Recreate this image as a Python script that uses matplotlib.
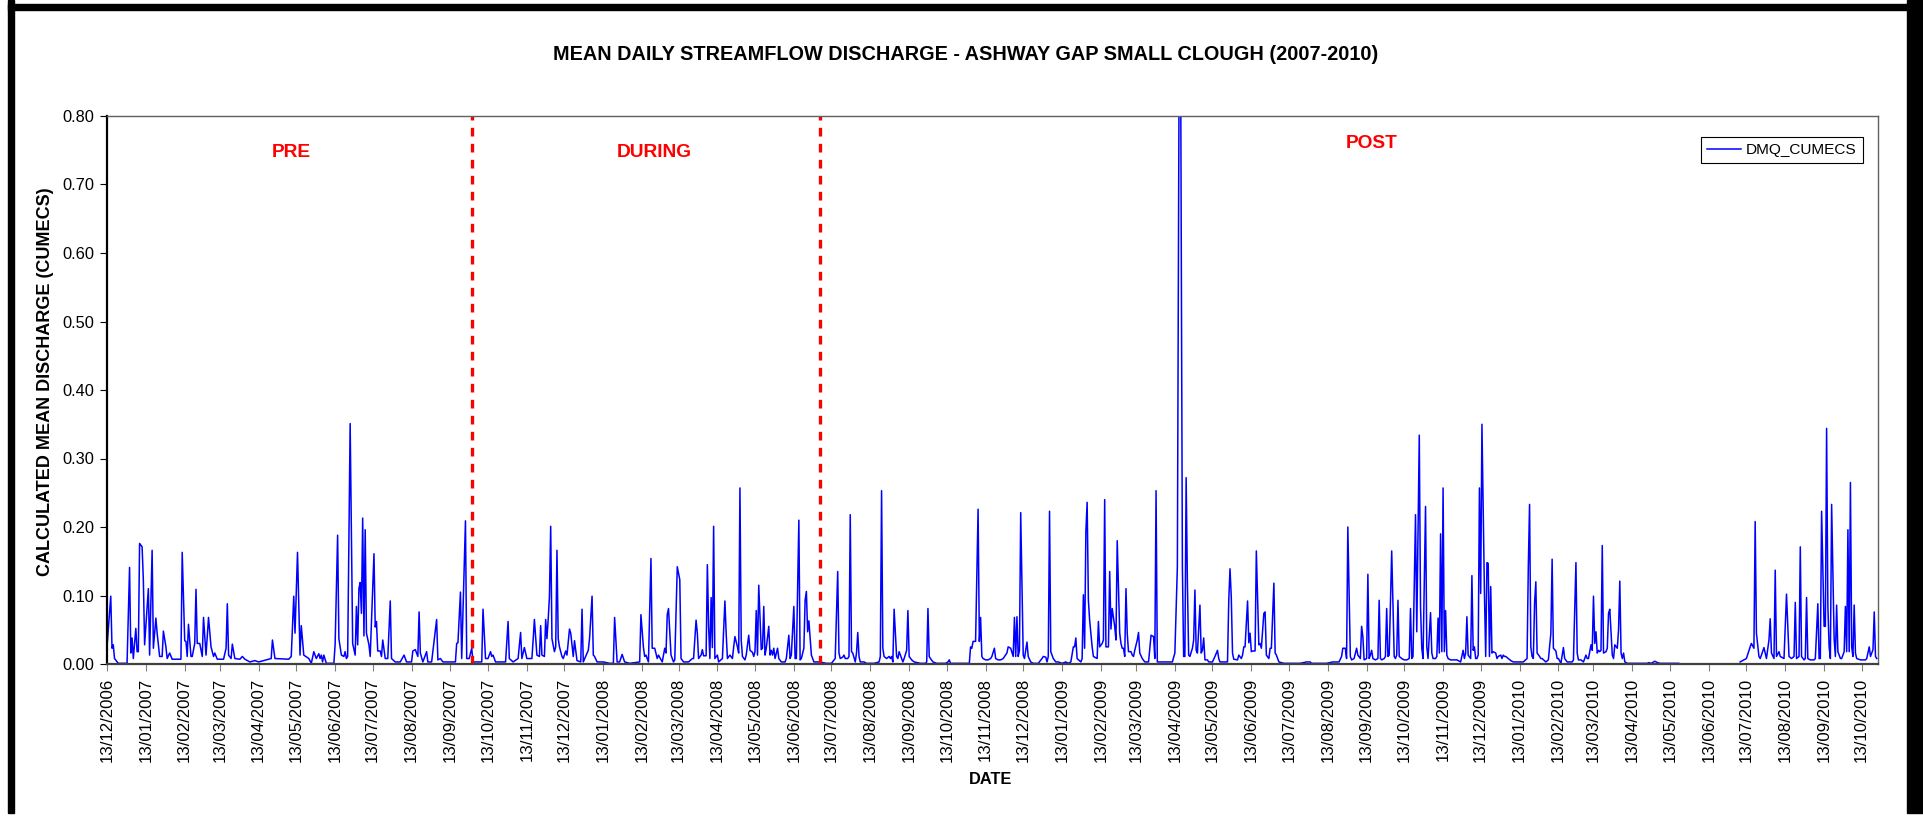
import numpy as np
import pandas as pd
import matplotlib
matplotlib.use('Agg')
import matplotlib.pyplot as plt
import matplotlib.dates as mdates
from matplotlib.patches import Rectangle

plt.rcParams['font.family'] = ['Liberation Sans', 'DejaVu Sans']

# daily flow, as days after 13/12/2006
start = '2006-12-13'
end_day = 1413
phase_breaks = [291, 569]
phase_names = ['PRE', 'DURING', 'POST']
phase_label_day = [147, 437, 1009]
phase_label_y = [0.747, 0.747, 0.760]

day = [
    0, 3, 4, 5, 6, 9, 16, 18, 19, 20, 21, 23, 24, 25, 26, 28, 29, 30, 33, 34,
    36, 37, 39, 40, 42, 44, 45, 47, 48, 50, 52, 59, 60, 62, 63, 64, 65, 67, 68, 70,
    71, 72, 74, 76, 77, 79, 81, 83, 85, 86, 88, 93, 95, 96, 97, 99, 100, 102, 106, 108,
    110, 114, 118, 121, 127, 131, 132, 134, 145, 147, 149, 150, 152, 154, 155, 157, 161, 163, 165, 167,
    169, 170, 171, 172, 173, 175, 181, 182, 184, 185, 187, 189, 190, 191, 192, 194, 196, 198, 199, 200,
    201, 202, 203, 204, 205, 206, 207, 209, 210, 213, 214, 215, 216, 218, 219, 220, 222, 224, 226, 227,
    230, 234, 237, 239, 243, 244, 246, 248, 249,
    250, 252, 255, 256, 259, 263, 264, 266, 268, 278, 279, 280, 282, 283, 286, 287, 289, 291, 292, 299,
    300, 302, 304, 306, 307, 308, 310, 318, 320, 321, 324, 328, 330, 331, 333, 335, 339, 340, 341, 343,
    345, 346, 347, 349, 350, 351, 352, 353, 354, 355, 357, 358, 359, 360, 361, 363, 364, 366, 367, 369,
    370, 372, 373, 375, 378, 379, 380, 384, 385, 387, 388, 389, 391, 396, 401, 404, 405, 407, 409, 411,
    413, 417, 425, 426, 428, 429, 430, 432, 434, 435, 437, 439, 440, 443, 445, 446, 447, 448, 450, 452,
    453, 455, 457, 458, 460, 464, 467, 468, 470, 471, 472, 474, 475, 476, 478, 479, 480, 481, 482, 483,
    484, 485, 487, 488,
    491, 493, 494, 495, 497, 499, 500, 501, 503, 504, 505, 506, 507, 509, 510, 512, 513, 515, 516, 517,
    518, 519, 520, 522, 523, 524, 525, 526, 528, 529, 530, 531, 532, 533, 535, 536, 538, 541, 542, 544,
    545, 546, 548, 549, 550, 552, 553, 554, 556, 557, 558, 559, 560, 562, 564, 568, 574, 578, 581, 583,
    584, 585, 587, 588, 589, 591, 592, 593, 594, 595, 597, 598, 599, 600, 601, 604, 606, 612, 616, 617,
    618, 619, 620, 622, 624, 625, 626, 627, 628, 630, 631, 632, 633, 635, 636, 638, 639, 640, 642, 644,
    649, 653, 654, 655, 656, 657, 659, 662, 669, 671, 672, 673, 676, 688, 689, 690, 691, 693, 695, 696,
    697, 698, 699, 701, 703, 705, 706, 708, 709, 711, 713, 715, 718, 719, 721, 723, 724, 725, 726, 727,
    728, 729, 731, 732, 733, 734, 735, 737, 739, 743, 746, 747, 749, 750, 751, 752, 753, 755, 757, 759,
    762, 765, 767, 769, 771, 772, 773, 774, 777, 778, 779, 780, 781, 782, 783, 784, 786, 787, 790, 791,
    792, 794, 795, 796, 797, 798, 799, 800, 801, 802, 804, 805, 806, 808, 809, 810, 811, 812, 813, 814,
    815, 817, 818, 819, 820, 822, 823, 824, 826, 828, 831, 833, 835, 836, 837, 838, 840, 846, 850, 852,
    854, 856, 858, 859, 860, 861, 862, 863, 864, 866, 867, 868, 869, 870, 872, 873, 874, 875, 876, 878,
    879, 882, 884, 886, 887, 888, 891, 894, 895, 896, 897, 898, 899, 902, 903, 905, 906, 907, 908, 910,
    911, 912, 913, 914, 915, 916, 917, 919, 920, 921, 923, 924, 925, 927, 928, 929, 931, 932, 933, 934,
    935, 939, 944, 952, 957, 960, 961, 968,
    973, 978, 983, 985, 986, 988, 989, 990, 992, 993, 995, 997, 998, 1000, 1001, 1002, 1003, 1005, 1006, 1007,
    1008, 1009, 1010, 1012, 1014, 1015, 1016, 1017, 1019, 1020, 1021, 1022, 1023, 1025, 1027, 1028, 1029, 1030, 1031, 1033,
    1035, 1037, 1039, 1040, 1041, 1042, 1044, 1045, 1047, 1048, 1049, 1050, 1052, 1053, 1054, 1056, 1057, 1058, 1060, 1061,
    1062, 1063, 1064, 1065, 1066, 1067, 1068, 1069, 1070, 1072, 1075, 1077, 1080, 1082, 1083, 1084, 1085, 1086, 1088, 1089,
    1090, 1091, 1092, 1093, 1094, 1095, 1096, 1097, 1099, 1100, 1101, 1102, 1103, 1104, 1105, 1106, 1108, 1109, 1110, 1112,
    1113, 1114, 1115, 1116, 1118, 1120, 1122, 1125, 1130, 1133, 1134, 1135, 1136, 1137, 1138, 1139, 1140, 1141, 1143, 1144,
    1145, 1148, 1150, 1152, 1153, 1154, 1156, 1157, 1158, 1160, 1161, 1162, 1163, 1165, 1169, 1170, 1172, 1173, 1174, 1176,
    1178, 1180, 1181, 1182, 1184, 1185, 1186, 1187, 1188, 1189, 1190, 1191, 1192, 1193, 1194, 1196, 1197, 1198, 1199, 1201,
    1202, 1203, 1205, 1206, 1207, 1208, 1209, 1210, 1211, 1213, 1218, 1229, 1230, 1232, 1235, 1237, 1239, 1254, 1280,
    1303, 1306, 1308, 1311, 1312, 1314, 1315, 1316, 1318, 1319, 1320, 1322, 1323, 1324, 1326, 1327, 1328, 1330, 1331, 1332,
    1334, 1335, 1338, 1340, 1342, 1344, 1346, 1347, 1348, 1350, 1351, 1352, 1354, 1355, 1356, 1357, 1359, 1362, 1363, 1365,
    1366, 1367, 1368, 1370, 1371, 1372, 1373, 1374, 1375, 1376, 1378, 1379, 1380, 1381, 1383, 1384, 1386, 1387, 1388, 1389,
    1390, 1391, 1392, 1393, 1394, 1395, 1396, 1399, 1403, 1404, 1406, 1407, 1409, 1410, 1411, 1412,
]

dmq = [
    0.025, 0.099, 0.023, 0.028, 0.008, 0.001, 0.001, 0.141, 0.016, 0.038, 0.008, 0.052, 0.018, 0.018, 0.176, 0.171, 0.123, 0.028, 0.110, 0.013,
    0.166, 0.023, 0.067, 0.045, 0.011, 0.011, 0.048, 0.025, 0.008, 0.016, 0.007, 0.007, 0.163, 0.034, 0.033, 0.011, 0.058, 0.011, 0.011, 0.030,
    0.109, 0.030, 0.030, 0.011, 0.068, 0.013, 0.068, 0.025, 0.011, 0.016, 0.007, 0.007, 0.023, 0.088, 0.013, 0.008, 0.029, 0.008, 0.007, 0.011,
    0.007, 0.003, 0.005, 0.003, 0.006, 0.008, 0.035, 0.008, 0.007, 0.011, 0.099, 0.045, 0.163, 0.013, 0.056, 0.013, 0.008, 0.001, 0.018, 0.008,
    0.015, 0.008, 0.013, 0.003, 0.013, 0.001, 0.001, 0.028, 0.188, 0.037, 0.013, 0.011, 0.018, 0.008, 0.011, 0.351, 0.030, 0.013, 0.084, 0.028,
    0.110, 0.119, 0.074, 0.213, 0.041, 0.196, 0.045, 0.028, 0.011, 0.161, 0.054, 0.062, 0.019, 0.019, 0.011, 0.035, 0.008, 0.008, 0.092, 0.008,
    0.003, 0.003, 0.013, 0.003, 0.003, 0.019, 0.021, 0.011, 0.076,
    0.016, 0.003, 0.018, 0.003, 0.003, 0.065, 0.006, 0.008, 0.003, 0.003, 0.030, 0.031, 0.105, 0.008, 0.209, 0.008, 0.008, 0.023, 0.003, 0.003,
    0.080, 0.008, 0.008, 0.018, 0.011, 0.013, 0.003, 0.003, 0.062, 0.008, 0.003, 0.008, 0.046, 0.008, 0.024, 0.008, 0.008, 0.035, 0.065, 0.013,
    0.011, 0.056, 0.013, 0.011, 0.065, 0.037, 0.065, 0.098, 0.201, 0.037, 0.018, 0.025, 0.166, 0.037, 0.025, 0.011, 0.008, 0.019, 0.013, 0.051,
    0.045, 0.011, 0.034, 0.005, 0.003, 0.080, 0.003, 0.020, 0.037, 0.099, 0.013, 0.011, 0.003, 0.003, 0.001, 0.001, 0.068, 0.003, 0.003, 0.014,
    0.003, 0.001, 0.003, 0.072, 0.024, 0.011, 0.013, 0.003, 0.154, 0.023, 0.023, 0.008, 0.013, 0.003, 0.023, 0.016, 0.072, 0.081, 0.013, 0.003,
    0.006, 0.142, 0.123, 0.008, 0.003, 0.003, 0.008, 0.008, 0.064, 0.045, 0.008, 0.013, 0.021, 0.012, 0.012, 0.145, 0.055, 0.008, 0.097, 0.024,
    0.201, 0.008, 0.013, 0.003,
    0.008, 0.092, 0.045, 0.008, 0.013, 0.008, 0.025, 0.040, 0.025, 0.016, 0.257, 0.035, 0.011, 0.006, 0.013, 0.042, 0.020, 0.017, 0.011, 0.018,
    0.078, 0.013, 0.115, 0.021, 0.023, 0.084, 0.013, 0.023, 0.055, 0.013, 0.020, 0.013, 0.023, 0.008, 0.023, 0.008, 0.003, 0.003, 0.008, 0.042,
    0.008, 0.013, 0.084, 0.008, 0.008, 0.210, 0.006, 0.008, 0.023, 0.093, 0.106, 0.047, 0.063, 0.013, 0.003, 0.003, 0.001, 0.001, 0.008, 0.135,
    0.016, 0.008, 0.010, 0.013, 0.008, 0.008, 0.011, 0.218, 0.018, 0.016, 0.003, 0.016, 0.046, 0.011, 0.003, 0.003, 0.001, 0.001, 0.003, 0.011,
    0.253, 0.023, 0.011, 0.008, 0.011, 0.008, 0.011, 0.003, 0.080, 0.011, 0.008, 0.018, 0.013, 0.003, 0.008, 0.020, 0.078, 0.011, 0.006, 0.003,
    0.001, 0.001, 0.003, 0.081, 0.011, 0.008, 0.003, 0.001, 0.001, 0.003, 0.006, 0.001, 0.001, 0.001, 0.025, 0.023, 0.033, 0.033, 0.226, 0.033,
    0.068, 0.011, 0.008, 0.006, 0.006, 0.008, 0.011, 0.023, 0.008, 0.006, 0.006, 0.008, 0.016, 0.025, 0.023, 0.011, 0.068, 0.011, 0.069, 0.011,
    0.020, 0.221, 0.013, 0.008, 0.020, 0.032, 0.011, 0.003, 0.001, 0.001, 0.008, 0.011, 0.010, 0.003, 0.011, 0.223, 0.018, 0.008, 0.003, 0.003,
    0.001, 0.003, 0.001, 0.003, 0.025, 0.025, 0.038, 0.008, 0.003, 0.008, 0.101, 0.023, 0.193, 0.236, 0.093, 0.064, 0.025, 0.011, 0.008, 0.062,
    0.025, 0.030, 0.035, 0.240, 0.025, 0.025, 0.025, 0.135, 0.051, 0.081, 0.055, 0.035, 0.180, 0.045, 0.030, 0.023, 0.023, 0.011, 0.110, 0.045,
    0.018, 0.018, 0.013, 0.011, 0.020, 0.035, 0.046, 0.016, 0.008, 0.003, 0.003, 0.042, 0.040, 0.008, 0.253, 0.003, 0.003, 0.003, 0.003, 0.016,
    0.142, 1.200, 0.142, 0.011, 0.011, 0.272, 0.118, 0.013, 0.011, 0.023, 0.035, 0.108, 0.020, 0.016, 0.086, 0.016, 0.020, 0.038, 0.006, 0.006,
    0.003, 0.003, 0.011, 0.020, 0.008, 0.003, 0.003, 0.003, 0.093, 0.139, 0.098, 0.016, 0.007, 0.006, 0.013, 0.008, 0.013, 0.025, 0.025, 0.092,
    0.031, 0.045, 0.018, 0.019, 0.019, 0.019, 0.165, 0.028, 0.030, 0.023, 0.074, 0.076, 0.013, 0.008, 0.023, 0.023, 0.118, 0.016, 0.013, 0.008,
    0.003, 0.001, 0.001, 0.001, 0.003, 0.003, 0.001, 0.001,
    0.001, 0.003, 0.003, 0.011, 0.023, 0.023, 0.008, 0.200, 0.011, 0.006, 0.008, 0.023, 0.013, 0.008, 0.055, 0.040, 0.006, 0.008, 0.131, 0.008,
    0.013, 0.020, 0.008, 0.006, 0.008, 0.093, 0.008, 0.006, 0.008, 0.011, 0.081, 0.011, 0.013, 0.165, 0.011, 0.008, 0.013, 0.093, 0.011, 0.008,
    0.006, 0.006, 0.008, 0.081, 0.008, 0.011, 0.218, 0.047, 0.334, 0.084, 0.023, 0.008, 0.230, 0.025, 0.008, 0.075, 0.016, 0.008, 0.008, 0.011,
    0.067, 0.016, 0.190, 0.018, 0.257, 0.018, 0.078, 0.013, 0.008, 0.006, 0.006, 0.006, 0.003, 0.020, 0.008, 0.016, 0.069, 0.013, 0.008, 0.129,
    0.020, 0.025, 0.008, 0.008, 0.013, 0.257, 0.103, 0.350, 0.103, 0.011, 0.148, 0.147, 0.011, 0.113, 0.016, 0.018, 0.016, 0.008, 0.011, 0.013,
    0.008, 0.013, 0.011, 0.011, 0.008, 0.005, 0.003, 0.003, 0.003, 0.008, 0.142, 0.233, 0.025, 0.011, 0.008, 0.089, 0.120, 0.016, 0.011, 0.008,
    0.008, 0.003, 0.006, 0.045, 0.153, 0.023, 0.019, 0.008, 0.008, 0.001, 0.013, 0.024, 0.008, 0.003, 0.003, 0.006, 0.148, 0.016, 0.006, 0.006,
    0.003, 0.013, 0.008, 0.008, 0.028, 0.020, 0.099, 0.030, 0.047, 0.016, 0.020, 0.018, 0.020, 0.173, 0.016, 0.018, 0.023, 0.074, 0.080, 0.013,
    0.008, 0.028, 0.023, 0.050, 0.121, 0.016, 0.008, 0.016, 0.003, 0.001, 0.001, 0.001, 0.002, 0.001, 0.004, 0.002, 0.001, 0.001, np.nan,
    0.003, 0.006, 0.008, 0.025, 0.030, 0.023, 0.208, 0.045, 0.011, 0.008, 0.013, 0.024, 0.016, 0.008, 0.035, 0.066, 0.016, 0.008, 0.137, 0.011,
    0.018, 0.011, 0.008, 0.102, 0.011, 0.008, 0.011, 0.090, 0.008, 0.011, 0.171, 0.011, 0.006, 0.008, 0.097, 0.008, 0.006, 0.006, 0.008, 0.088,
    0.008, 0.008, 0.223, 0.055, 0.055, 0.344, 0.084, 0.025, 0.008, 0.233, 0.037, 0.011, 0.086, 0.018, 0.008, 0.008, 0.018, 0.084, 0.018, 0.196,
    0.018, 0.265, 0.025, 0.011, 0.086, 0.016, 0.008, 0.006, 0.006, 0.008, 0.025, 0.011, 0.021, 0.076, 0.011, 0.008,
]

t0 = pd.Timestamp(start)
dates = (t0 + pd.to_timedelta(day, unit='D')).to_numpy()

fig = plt.figure(figsize=(19.24, 8.17), dpi=100)
W, H = 1924, 817
ax = fig.add_axes([107 / W, 1 - 664 / H, (1878 - 107) / W, (664 - 116) / H])

ax.plot(dates, dmq, color='#0000ff', lw=1.1, label='DMQ_CUMECS')

for d in phase_breaks:
    ax.axvline((t0 + pd.Timedelta(days=d)).to_datetime64(), color='#ff0000',
               lw=2.4, linestyle=(0, (2.6, 2.2)))
for name, d, y in zip(phase_names, phase_label_day, phase_label_y):
    ax.text((t0 + pd.Timedelta(days=d)).to_datetime64(), y, name, color='#ff0000',
            fontsize=13.8, fontweight='bold', ha='center', va='center')

ax.set_xlim(t0.to_datetime64(), (t0 + pd.Timedelta(days=end_day)).to_datetime64())
ax.set_ylim(0, 0.8)
ax.set_yticks(np.arange(0, 0.81, 0.1))
ax.yaxis.set_major_formatter(plt.FormatStrFormatter('%.2f'))

ticks = pd.date_range('2006-12-01', '2010-10-01', freq='MS') + pd.Timedelta(days=12)
ax.set_xticks(ticks.to_numpy())
ax.xaxis.set_major_formatter(mdates.DateFormatter('%d/%m/%Y'))
ax.tick_params(axis='x', labelrotation=90, labelsize=12.1, length=5, color='#808080', pad=5)
ax.tick_params(axis='y', labelsize=11.8, length=5, pad=4)

ax.spines['left'].set_linewidth(1.6)
ax.spines['bottom'].set_linewidth(1.6)
ax.spines['bottom'].set_color('#404040')
for s in ['top', 'right']:
    ax.spines[s].set_color('#606060')
    ax.spines[s].set_linewidth(1.0)

leg = ax.legend(loc='upper right', bbox_to_anchor=(0.9915, 0.962), borderaxespad=0,
                fontsize=11.1, fancybox=False, edgecolor='black', framealpha=1,
                handlelength=2.2, handletextpad=0.3, borderpad=0.4)
leg.get_frame().set_linewidth(0.8)

fig.text(0.502, 1 - 54 / H, 'MEAN DAILY STREAMFLOW DISCHARGE - ASHWAY GAP SMALL CLOUGH (2007-2010)',
         fontsize=14.3, fontweight='bold', ha='center', va='center')
fig.text(46 / W, 1 - 382 / H, 'CALCULATED MEAN DISCHARGE (CUMECS)', fontsize=13,
         fontweight='bold', rotation=90, ha='center', va='center')
fig.text(991 / W, 1 - 779 / H, 'DATE', fontsize=11.8, fontweight='bold', ha='center', va='center')

# thick black frame on left, top and right
for x, y, w, h in [(8, 0, 6, 813), (8, 4, 1916, 6), (1907, 0, 17, 813)]:
    fig.patches.append(Rectangle((x / W, 1 - (y + h) / H), w / W, h / H,
                                 transform=fig.transFigure, color='black', zorder=10))

fig.savefig('out.png', dpi=100)
